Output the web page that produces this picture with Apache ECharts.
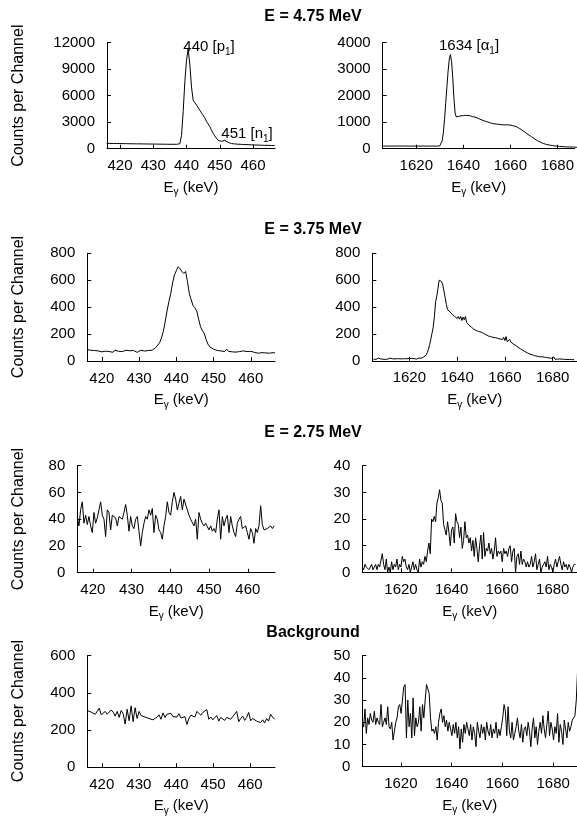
<!DOCTYPE html>
<html>
<head>
<meta charset="utf-8">
<script src="https://cdn.jsdelivr.net/npm/echarts@6/dist/echarts.min.js"></script>
<style>
html,body{margin:0;padding:0;background:#ffffff;}
#chart{width:577px;height:821px;}
</style>
</head>
<body>
<div id="chart"></div>
<script>
// ---------------- data ----------------
const rowTitles = ['E = 4.75 MeV', 'E = 3.75 MeV', 'E = 2.75 MeV', 'Background'];
const yAxisTitle = 'Counts per Channel';
const xTicksLow = [420, 430, 440, 450, 460];
const xTicksHigh = [1620, 1640, 1660, 1680];
const yMaxes = [12000, 4000, 800, 800, 80, 40, 600, 50];
const ySteps = [3000, 1000, 200, 200, 20, 10, 200, 10];
const xRanges = [[416.1, 466.6], [1605.7, 1687.4], [416.1, 466.5], [1604.5, 1690.2],
                 [416.0, 467.0], [1604.7, 1689.6], [416.1, 466.7], [1604.8, 1689.4]];
const peakLabels = ['440 [p{s|1}]', '451 [n{s|1}]', '1634 [α{s|1}]'];

// energy calibration of each spectrum: first channel energy (keV) and channel width (keV)
const calib = [[416.0, 0.5], [1605.0, 0.5], [416.0, 0.5], [1605.0, 0.5],
               [416.0, 0.43], [1604.7, 0.527], [416.1, 0.537], [1604.8, 0.527]];

// E = 4.75 MeV, 440 keV region
const counts475Low = [
 610,600,600,595,590,590,585,580,580,575,
 575,570,570,565,560,560,555,555,550,550,
 545,545,540,540,535,535,530,530,525,525,
 520,520,515,515,510,510,505,505,500,500,
 500,495,495,500,560,
 1500,4200,7600,10000,11300,9500,7000,5500,5200,4950,4650,4350,4050,3800,3500,3100,
 2800,2500,2100,1750,1450,1180,950,800,830,930,950,850,720,620,580,
 560,540,520,510,500,490,480,470,460,455,450,440,430,425,420,410,400,395,390,385,
 380,375,370,365,360,355
];
// E = 4.75 MeV, 1634 keV region
const counts475High = [
 105,100,98,102,100,97,100,103,99,100,
 98,101,100,97,102,99,100,98,101,99,
 100,97,99,102,98,100,97,99,101,98,
 100,96,99,101,97,99,100,98,96,100,
 98,97,99,96,100,98,97,99,98,100,
 110,150,300,600,1100,1700,2300,2900,3350,3550,3300,2700,1900,1350,1200,1180,1220,1200,1240,1230,
 1250,1220,1260,1300,1250,1270,1240,1250,1210,1230,1190,1180,1160,1150,1120,1100,1080,1070,1050,1040,
 1020,1000,990,970,960,950,940,930,930,910,920,890,910,880,900,890,900,880,900,890,
 890,880,870,880,850,840,810,790,760,730,700,670,640,610,570,540,510,480,450,420,
 390,360,330,300,280,260,240,220,200,185,170,160,150,140,130,125,120,110,105,100,
 95,90,88,85,80,78,75,72,70,68,66,64,62,60,60,58,56,55,55
];
// E = 3.75 MeV, 440 keV region
const counts375Low = [
 85,72,80,70,78,65,75,80,68,77,
 73,82,70,76,65,80,74,72,78,70,
 75,80,72,76,70,78,82,64,75,80,
 70,74,68,78,72,80,
 90,100,110,135,170,218,290,370,440,500,580,640,670,700,685,665,650,665,590,500,
 455,410,395,370,310,255,225,205,160,125,105,95,88,
 85,78,90,75,80,70,88,72,75,68,78,66,72,70,62,75,68,70,60,72,
 66,64,70,58,66,62,72,60,65,58,68,62,60
];
// E = 3.75 MeV, 1634 keV region
const counts375High = [
 12,18,10,15,20,8,14,16,12,18,
 10,15,13,17,20,12,15,10,14,18,
 16,12,15,22,14,12,16,18,15,20,
 18,14,17,22,16,15,13,18,20,16,
 20,22,28,35,42,60,85,120,160,205,250,330,440,480,540,600,605,590,565,520,
 470,420,380,375,365,355,345,350,330,340,315,330,310,330,300,325,305,330,285,295,
 265,275,250,258,235,240,225,228,218,215,214,210,205,215,195,200,185,190,180,185,
 175,180,172,175,168,172,162,168,158,175,150,180,142,150,160,140,132,125,120,115,
 108,100,95,90,85,78,72,68,62,58,55,50,48,45,42,38,40,34,35,30,
 28,30,25,27,22,24,20,21,17,19,15,28,12,15,12,10,14,10,12,9,
 11,8,10,9,10,8,9,8,8
];
// E = 2.75 MeV, 440 keV region
const counts275Low = [
 42,35,47,53,37,43,36,42,35,30,
 45,37,41,47,53,43,40,27,47,45,
 32,43,42,41,35,42,43,40,45,51,
 43,31,42,35,33,40,42,43,20,30,
 37,42,40,47,43,48,30,43,40,32,
 30,25,35,42,53,45,43,53,60,55,
 47,52,57,47,55,55,47,43,40,41,
 35,40,25,45,40,37,35,37,36,32,
 35,31,33,30,40,47,25,42,35,40,
 43,30,42,35,30,27,37,40,42,33,
 32,35,30,25,33,30,22,33,30,35,
 50,36,32,31,33,32,35,33,35
];
// E = 2.75 MeV, 1634 keV region
const counts275High = [
 2,1,3,2,2,1,2,3,1,2,
 3,1,3,2,2,7,3,1,5,0,
 2,0,4,1,3,2,5,1,3,2,
 6,4,5,2,1,3,0,2,4,1,
 3,1,0,5,2,4,
 3,6,4,8,11,7,
 20,19,21,19,26,28,
 31,27,26,18,16,14,
 19,15,10,16,17,11,
 22,19,18,13,17,9,
 12,19,13,14,11,13,
 8,12,6,13,9,4,
 10,14,5,15,6,9,
 8,11,7,9,5,8,
 13,6,8,7,8,4,
 9,7,8,6,9,10,
 4,8,9,0,6,7,
 3,8,3,5,4,2,
 4,2,3,6,2,4,
 7,1,3,5,0,2,
 3,4,2,6,1,3,
 2,0,3,5,2,4,
 6,3,1,4,2,3,
 1,3,2,0,2,3,3
];
// Background, 440 keV region
const countsBgLow = [
 305,300,296,290,285,295,318,282,290,300,
 285,280,308,296,275,300,268,305,288,232,
 312,250,330,245,320,262,300,278,272,270,
 268,262,258,255,262,270,282,258,292,268,
 285,278,290,272,262,270,288,265,255,272,
 230,262,280,275,270,300,290,280,295,300,
 310,258,270,255,262,278,248,268,265,252,
 268,262,258,272,280,300,245,262,275,252,
 268,295,250,262,270,248,258,240,255,238,
 262,248,285,270,258
];
// Background, 1634 keV region
const countsBgHigh = [
 20,18,26,15,22,19,24,21,20,25,
 19,22,20,19,28,18,20,22,19,27,
 18,17,20,12,16,20,22,27,28,24,
 30,36,37,13,30,18,24,13,31,14,
 22,18,20,27,16,28,22,30,37,37,
 33,22,16,17,15,18,12,20,24,26,
 20,23,18,21,16,20,17,14,19,15,
 20,13,18,8,17,11,19,15,20,17,
 14,19,12,18,15,9,20,16,13,19,
 15,18,12,20,16,14,19,13,17,15,
 20,13,17,14,18,22,28,25,14,27,
 16,13,20,12,15,18,22,16,13,19,
 11,17,18,14,20,16,9,17,22,13,
 18,10,16,20,15,23,17,13,19,25,
 14,20,17,12,18,15,24,11,19,16,
 10,21,17,13,20,16,18,21,22,23,
 30,44
];
const spectra = [counts475Low, counts475High, counts375Low, counts375High,
                 counts275Low, counts275High, countsBgLow, countsBgHigh];

// ---------------- layout / style ----------------
const FONT = '"Liberation Sans", Arial, Helvetica, sans-serif';
const grids = [
  {left: 107,   top: 42.7,  width: 168,   height: 106},
  {left: 382.7, top: 42.7,  width: 194.3, height: 106},
  {left: 87.3,  top: 253.3, width: 187.7, height: 107.7},
  {left: 372.3, top: 253.3, width: 204.7, height: 107.5},
  {left: 77.3,  top: 465.7, width: 197.7, height: 107},
  {left: 362.3, top: 465.7, width: 214.7, height: 106.7},
  {left: 87.3,  top: 655.7, width: 187.7, height: 111.5},
  {left: 362.3, top: 655.7, width: 214.7, height: 111}
];
const titleY = [17, 230, 433, 633];
const ylabelY = [95.7, 307, 519, 711];

const rich = {
  m: {fontSize: 15, fontFamily: FONT, color: '#000', lineHeight: 20, verticalAlign: 'middle'},
  s: {fontSize: 10, fontFamily: FONT, color: '#000', lineHeight: 10, verticalAlign: 'bottom'}
};
const richG = {
  m: {fontSize: 15, fontFamily: FONT, fill: '#000', lineHeight: 20, verticalAlign: 'middle'},
  s: {fontSize: 10, fontFamily: FONT, fill: '#000', lineHeight: 10, verticalAlign: 'bottom'}
};
const plain = v => String(v);

const xAxes = [], yAxes = [], series = [];
for (let i = 0; i < 8; i++) {
  const ticks = (i % 2 === 0) ? xTicksLow : xTicksHigh;
  xAxes.push({
    type: 'value', gridIndex: i, min: xRanges[i][0], max: xRanges[i][1],
    name: '{m|E}{s|γ}{m| (keV)}', nameLocation: 'middle', nameGap: 29,
    nameTextStyle: {rich: rich},
    axisLine: {show: true, onZero: false, lineStyle: {color: '#000', width: 1}},
    axisTick: {show: true, inside: true, length: 4, lineStyle: {color: '#000'}, customValues: ticks},
    axisLabel: {show: true, fontSize: 15, fontFamily: FONT, color: '#000', margin: 10,
                customValues: ticks, formatter: plain},
    splitLine: {show: false}
  });
  yAxes.push({
    type: 'value', gridIndex: i, min: 0, max: yMaxes[i], interval: ySteps[i],
    axisLine: {show: true, lineStyle: {color: '#000', width: 1}},
    axisTick: {show: true, inside: true, length: 4, lineStyle: {color: '#000'}},
    axisLabel: {show: true, fontSize: 15, fontFamily: FONT, color: '#000', margin: 12, formatter: plain},
    splitLine: {show: false}
  });
  const c = calib[i];
  series.push({
    type: 'line', xAxisIndex: i, yAxisIndex: i,
    data: spectra[i].map((v, k) => [c[0] + k * c[1], v]),
    showSymbol: false, symbol: 'none', clip: true,
    lineStyle: {color: '#000', width: 1}, silent: true
  });
}

const graphics = [];
rowTitles.forEach((t, r) => {
  graphics.push({type: 'text', x: 313, y: titleY[r],
    style: {text: t, fontSize: 16, fontWeight: 'bold', fontFamily: FONT, fill: '#000',
            align: 'center', verticalAlign: 'middle'}});
  graphics.push({type: 'text', x: 19, y: ylabelY[r], rotation: Math.PI / 2,
    style: {text: yAxisTitle, fontSize: 16, fontFamily: FONT, fill: '#000',
            align: 'center', verticalAlign: 'middle'}});
});
const peakPos = [[209, 47], [247, 134], [469, 46]];
peakLabels.forEach((t, k) => {
  const parts = t.split(/(\{s\|[^}]*\})/).filter(p => p.length).map(p => p.startsWith('{') ? p : '{m|' + p + '}').join('');
  graphics.push({type: 'text', x: peakPos[k][0], y: peakPos[k][1],
    style: {text: parts, rich: richG, align: 'center', verticalAlign: 'middle'}});
});

const chart = echarts.init(document.getElementById('chart'), null, {renderer: 'canvas'});
chart.setOption({
  animation: false,
  backgroundColor: '#ffffff',
  grid: grids.map(g => Object.assign({containLabel: false}, g)),
  xAxis: xAxes,
  yAxis: yAxes,
  series: series,
  graphic: graphics
});
</script>
</body>
</html>
